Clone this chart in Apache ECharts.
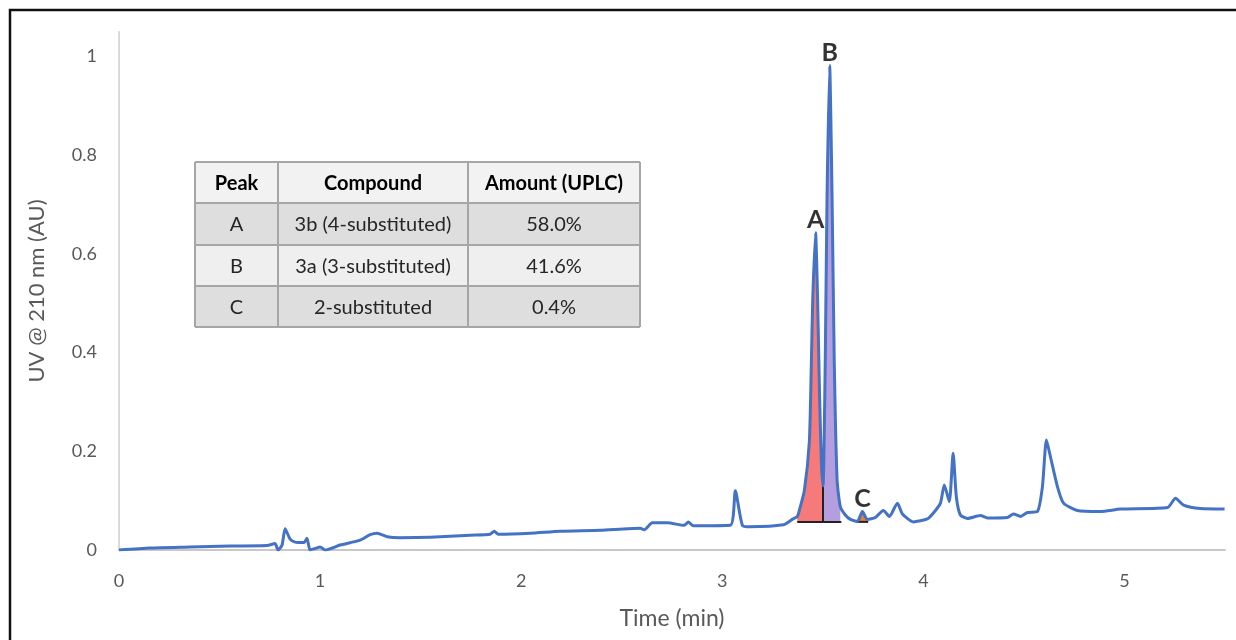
<html style="height: 100%">
<meta http-equiv=Content-Type content="text/html;charset=utf-8" />
<script type="text/javascript" src="https://cdn.jsdelivr.net/npm/echarts@6/dist/echarts.min.js"></script>
<body style="height: 100%; margin: 0; background: #fff">
<div id="echart" style="width: 1236px; height: 640px"></div>

<script type="text/javascript">
// chromatogram trace (time in min, UV in AU)
var times = [0, 0.154, 0.353, 0.552, 0.736, 0.776, 0.791, 0.811, 0.826, 0.851, 0.876, 0.920, 0.935, 0.950, 0.975, 1.000, 1.025,
    1.100, 1.199, 1.249, 1.284, 1.333, 1.398, 1.547, 1.746, 1.846, 1.866, 1.886, 2.045, 2.194, 2.393, 2.592, 2.612, 2.652,
    2.726, 2.811, 2.831, 2.856, 3.040, 3.065, 3.100, 3.139, 3.303, 3.348, 3.373, 3.383, 3.408, 3.433, 3.443, 3.450, 3.464,
    3.474, 3.484, 3.493, 3.501, 3.512, 3.521, 3.534, 3.546, 3.557, 3.571, 3.587, 3.612, 3.637, 3.672, 3.697, 3.721, 3.761,
    3.801, 3.831, 3.871, 3.896, 3.950, 4.020, 4.050, 4.085, 4.104, 4.129, 4.148, 4.164, 4.184, 4.219, 4.284, 4.318, 4.418,
    4.448, 4.483, 4.517, 4.567, 4.592, 4.612, 4.632, 4.667, 4.697, 4.766, 4.881, 4.980, 5.214, 5.254, 5.294, 5.378, 5.498];
var uv = [0, 0.004, 0.006, 0.008, 0.009, 0.013, 0.000, 0.010, 0.043, 0.022, 0.016, 0.015, 0.024, 0.000, 0.003, 0.006, 0.000,
    0.010, 0.020, 0.031, 0.034, 0.027, 0.025, 0.026, 0.030, 0.032, 0.038, 0.032, 0.034, 0.038, 0.040, 0.044, 0.041, 0.055,
    0.055, 0.050, 0.057, 0.049, 0.050, 0.120, 0.050, 0.047, 0.051, 0.062, 0.068, 0.080, 0.120, 0.220, 0.380, 0.510, 0.643,
    0.510, 0.310, 0.176, 0.130, 0.380, 0.716, 0.982, 0.716, 0.380, 0.142, 0.088, 0.071, 0.062, 0.058, 0.078, 0.062, 0.066,
    0.080, 0.068, 0.095, 0.073, 0.057, 0.063, 0.075, 0.095, 0.132, 0.098, 0.196, 0.108, 0.071, 0.064, 0.070, 0.065, 0.066,
    0.073, 0.068, 0.076, 0.078, 0.128, 0.223, 0.189, 0.128, 0.095, 0.080, 0.078, 0.083, 0.086, 0.105, 0.091, 0.084, 0.083];

// integration of the peaks
var peakNames = ["A", "B", "C"];
var peakTimes = [3.464, 3.534, 3.697];
var peakTops = [0.643, 0.982, 0.078];
var baseLevel = 0.057;
var rangeA = [3.373, 3.501];
var rangeB = [3.501, 3.587];
var rangeC = [3.672, 3.721];
var baseLineAB = [3.373, 3.592];
var baseLineC = [3.667, 3.726];
var splitTime = 3.501;
var splitTop = 0.130;

// table
var tableHead = ["Peak", "Compound", "Amount (UPLC)"];
var tableCompound = ["3b (4-substituted)", "3a (3-substituted)", "2-substituted"];
var tableAmount = ["58.0%", "41.6%", "0.4%"];

var xTicks = [0, 1, 2, 3, 4, 5];
var yTicks = [0, 0.2, 0.4, 0.6, 0.8, 1];

var font = "Lato, 'Open Sans', sans-serif";

function pairs(xs, ys) {
    var out = [];
    for (var i = 0; i < xs.length; i++) out.push([xs[i], ys[i]]);
    return out;
}

// polygon between baseLevel and the trace, drawn through the axes
function fillSeries(range, color) {
    var pts = [];
    for (var i = 0; i < times.length; i++) {
        if (times[i] >= range[0] - 1e-9 && times[i] <= range[1] + 1e-9) pts.push([times[i], uv[i]]);
    }
    return {
        type: 'custom', data: pts, encode: {x: 0, y: 1}, z: 1, silent: true,
        renderItem: function (params, api) {
            if (params.dataIndex !== 0) return null;
            var poly = [api.coord([pts[0][0], baseLevel])];
            for (var k = 0; k < pts.length; k++) poly.push(api.coord(pts[k]));
            poly.push(api.coord([pts[pts.length - 1][0], baseLevel]));
            return {type: 'polygon', shape: {points: poly}, style: {fill: color}};
        }
    };
}

function tableGraphic() {
    var colX = [195, 278, 468, 640];
    var rowY = [162, 203, 245, 286, 327];
    var fills = ["#f2f2f2", "#dedede", "#efefef", "#dedede"];
    var els = [];
    for (var r = 0; r < 4; r++) {
        els.push({type: 'rect', shape: {x: colX[0], y: rowY[r], width: colX[3] - colX[0], height: rowY[r + 1] - rowY[r]},
            style: {fill: fills[r]}});
        var cells = r === 0 ? tableHead : [peakNames[r - 1], tableCompound[r - 1], tableAmount[r - 1]];
        for (var c = 0; c < 3; c++) {
            els.push({type: 'text', x: (colX[c] + colX[c + 1]) / 2, y: (rowY[r] + rowY[r + 1]) / 2 + 1,
                style: {text: cells[c], align: 'center', verticalAlign: 'middle', fontFamily: font, fontSize: 20,
                    fontWeight: r === 0 ? 'bold' : 'normal', fill: r === 0 ? '#000' : '#262626'}});
        }
    }
    for (var i = 0; i < rowY.length; i++) {
        els.push({type: 'line', shape: {x1: colX[0], y1: rowY[i], x2: colX[3], y2: rowY[i]},
            style: {stroke: '#a6a6a6', lineWidth: 2}});
    }
    for (var j = 0; j < colX.length; j++) {
        els.push({type: 'line', shape: {x1: colX[j], y1: rowY[0], x2: colX[j], y2: rowY[4]},
            style: {stroke: '#a6a6a6', lineWidth: 2}});
    }
    return els;
}

var series = [];
series.push(fillSeries(rangeA, '#f57a79'));
series.push(fillSeries(rangeB, '#b59ee0'));
series.push(fillSeries(rangeC, '#ed7d31'));

// integration marks
series.push({type: 'line', data: [[baseLineAB[0], baseLevel], [baseLineAB[1], baseLevel]], showSymbol: false,
    lineStyle: {color: '#222', width: 2}, z: 2, silent: true});
series.push({type: 'line', data: [[baseLineC[0], baseLevel], [baseLineC[1], baseLevel]], showSymbol: false,
    lineStyle: {color: '#222', width: 2}, z: 2, silent: true});
series.push({type: 'line', data: [[splitTime, baseLevel], [splitTime, splitTop]], showSymbol: false,
    lineStyle: {color: '#222', width: 2}, z: 2, silent: true});

// trace
series.push({type: 'line', data: pairs(times, uv), showSymbol: false, smooth: 0.2,
    lineStyle: {color: '#4472c4', width: 3, join: 'round'}, z: 3});

// peak letters
series.push({type: 'scatter', data: pairs(peakTimes, peakTops), symbolSize: 0, z: 4,
    label: {show: true, position: 'top', distance: 0,
        formatter: function (p) { return peakNames[p.dataIndex]; },
        fontFamily: font, fontSize: 25, fontWeight: 'bold', color: '#000'}});

var myChart = echarts.init(document.getElementById('echart'));
myChart.setOption({
    backgroundColor: '#fff',
    animation: false,
    grid: {left: 119, right: 11, top: 32, bottom: 90},
    xAxis: {
        type: 'value', min: 0, max: 5.5, interval: 1,
        name: 'Time (min)', nameLocation: 'middle', nameGap: 57,
        nameTextStyle: {fontFamily: font, fontSize: 23, color: '#595959'},
        axisLine: {lineStyle: {color: '#c8c8c8', width: 2}},
        axisTick: {show: false},
        splitLine: {show: false},
        axisLabel: {showMaxLabel: false, margin: 22, fontFamily: font, fontSize: 18, color: '#595959',
            formatter: function (v) { return xTicks.indexOf(v) >= 0 ? String(v) : ''; }}
    },
    yAxis: {
        type: 'value', min: 0, max: 1.05, interval: 0.2,
        name: 'UV @ 210 nm (AU)', nameLocation: 'middle', nameGap: 71,
        nameTextStyle: {fontFamily: font, fontSize: 22, color: '#595959'},
        axisLine: {show: true, lineStyle: {color: '#d9d9d9', width: 2}},
        axisTick: {show: false},
        splitLine: {show: false},
        axisLabel: {showMaxLabel: false, margin: 22, fontFamily: font, fontSize: 18, color: '#595959',
            formatter: function (v) {
                for (var i = 0; i < yTicks.length; i++) if (Math.abs(yTicks[i] - v) < 1e-6) return String(yTicks[i]);
                return '';
            }}
    },
    graphic: [{
        type: 'rect', shape: {x: 10, y: 10, width: 1240, height: 650},
        style: {fill: 'none', stroke: '#111', lineWidth: 2.5}, z: 10
    }, {
        type: 'group', children: tableGraphic(), z: 5
    }],
    series: series
});
</script>
</body>
</html>
